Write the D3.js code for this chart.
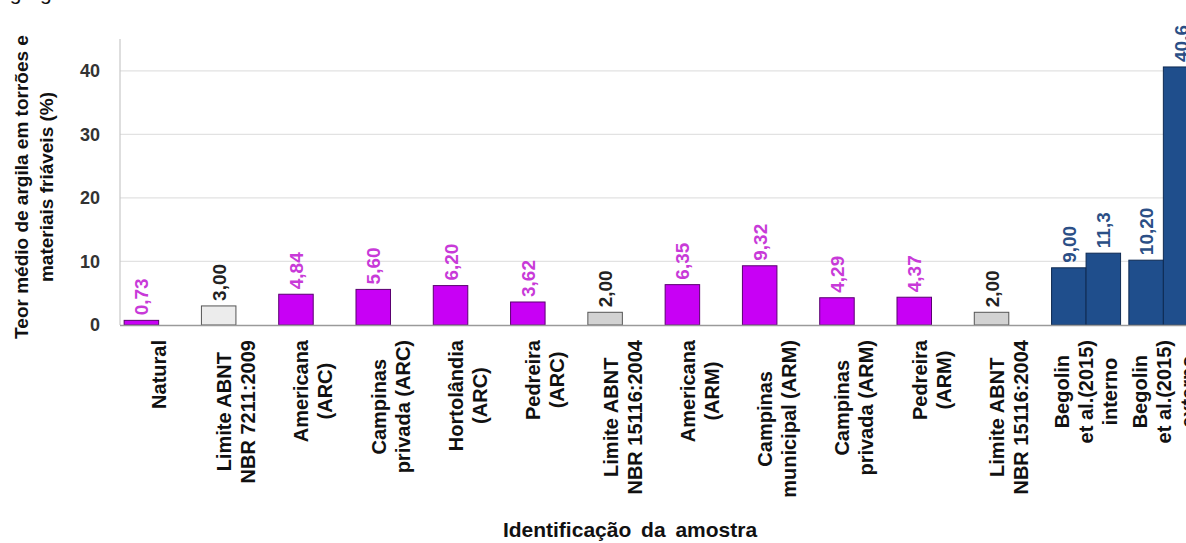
<!DOCTYPE html>
<html>
<head>
<meta charset="utf-8">
<script src="https://cdn.jsdelivr.net/npm/d3@7"></script>
<style>
  body { margin: 0; background: #fff; }
  svg { display: block; font-family: "Liberation Sans", Arial, sans-serif; }
</style>
</head>
<body>
<div id="chart"></div>
<script>
// categories (one line per label row)
var categories = [
  ['Natural'],
  ['Limite ABNT', 'NBR 7211:2009'],
  ['Americana', '(ARC)'],
  ['Campinas', 'privada (ARC)'],
  ['Hortolândia', '(ARC)'],
  ['Pedreira', '(ARC)'],
  ['Limite ABNT', 'NBR 15116:2004'],
  ['Americana', '(ARM)'],
  ['Campinas', 'municipal (ARM)'],
  ['Campinas', 'privada (ARM)'],
  ['Pedreira', '(ARM)'],
  ['Limite ABNT', 'NBR 15116:2004'],
  ['Begolin', 'et al.(2015)', 'interno'],
  ['Begolin', 'et al.(2015)', 'externo']
]
// first bar of each category
var values1 = [0.73, 3.00, 4.84, 5.60, 6.20, 3.62, 2.00, 6.35, 9.32, 4.29, 4.37, 2.00, 9.00, 10.20]
var labels1 = ['0,73', '3,00', '4,84', '5,60', '6,20', '3,62', '2,00', '6,35', '9,32', '4,29', '4,37', '2,00', '9,00', '10,20']
// second bar (only Begolin et al.)
var values2 = [null, null, null, null, null, null, null, null, null, null, null, null, 11.3, 40.6]
var labels2 = ['', '', '', '', '', '', '', '', '', '', '', '', '11,3', '40,6']
// kind of sample: r = recycled, l = limit, b = literature
var kinds = ['r', 'l', 'r', 'r', 'r', 'r', 'l', 'r', 'r', 'r', 'r', 'l', 'b', 'b']
var yTicks = [0, 10, 20, 30, 40]

var W = 1186, H = 543
var fills = { r: '#c800f5', b: '#1f4e8c' }
var strokes = { r: '#5a0070', l: '#555', b: '#0e2a52' }
var textCol = { r: '#c83ad8', l: '#222', b: '#2b4f86' }

var svg = d3.select('#chart')
  .append('svg')
    .attr('width', W)
    .attr('height', H)

// caption fragment cut off at the top
svg.append('text')
    .attr('x', -2)
    .attr('y', 0)
    .style('font-size', '21px')
    .style('fill', '#111')
    .text('agregados reciclados')

var idx = d3.range(categories.length)
var x0 = d3.scaleBand().domain(idx).range([120, 1202]).padding(0)
var x1 = d3.scaleBand().domain([0, 1]).range([0, x0.bandwidth()]).paddingInner(0).paddingOuter(0.12)
var y = d3.scaleLinear().domain([0, 45]).range([325, 39])

// grid
svg.append('g')
  .selectAll('line')
  .data(yTicks.filter(d => d > 0))
  .join('line')
    .attr('x1', 120)
    .attr('x2', W)
    .attr('y1', d => y(d))
    .attr('y2', d => y(d))
    .style('stroke', '#e2e2e2')
    .style('stroke-width', 1.2)

// y axis
var yAxis = svg.append('g')
    .attr('transform', 'translate(120,0)')
    .call(d3.axisLeft(y).tickValues(yTicks).tickSize(0).tickPadding(20))
yAxis.select('.domain').remove()
yAxis.selectAll('text')
    .style('font-size', '18px')
    .style('font-weight', 'bold')
    .style('font-family', '"Liberation Sans", Arial, sans-serif')
    .style('fill', '#333')
svg.append('line')
    .attr('x1', 120).attr('x2', 120)
    .attr('y1', y(0)).attr('y2', y(45))
    .style('stroke', '#c8c8c8')
    .style('stroke-width', 1.2)

// bars
var bars = []
idx.forEach(function(i) {
  bars.push({ i: i, s: 0, v: values1[i], t: labels1[i] })
  if (values2[i] != null) bars.push({ i: i, s: 1, v: values2[i], t: labels2[i] })
})

function barFill(d) {
  var k = kinds[d.i]
  if (k === 'l') return d.i === 1 ? '#ececec' : '#d2d2d2'
  return fills[k]
}

svg.append('g')
  .selectAll('rect')
  .data(bars)
  .join('rect')
    .attr('x', d => x0(d.i) + x1(d.s))
    .attr('width', x1.bandwidth())
    .attr('y', d => y(d.v))
    .attr('height', d => y(0) - y(d.v))
    .style('fill', barFill)
    .style('stroke', d => strokes[kinds[d.i]])
    .style('stroke-width', 1)

// bottom axis line
svg.append('line')
    .attr('x1', 120).attr('x2', W)
    .attr('y1', y(0) + 0.5).attr('y2', y(0) + 0.5)
    .style('stroke', '#9a9a9a')
    .style('stroke-width', 1.5)

// value labels
svg.append('g')
  .selectAll('text')
  .data(bars)
  .join('text')
    .attr('transform', d => 'translate(' + (x0(d.i) + x1(d.s) + x1.bandwidth() / 2 + 7) + ',' + (y(d.v) - 5) + ') rotate(-90)')
    .style('font-size', '19px')
    .style('font-weight', 'bold')
    .style('fill', d => textCol[kinds[d.i]])
    .text(d => d.t)

// category labels, rotated, each line centred inside its block
var fs = 20, lh = 24, labelTop = 340
var cat = svg.append('g')
  .selectAll('g')
  .data(idx)
  .join('g')
cat.each(function(i) {
  var g = d3.select(this)
  var lines = categories[i]
  var cx = x0(i) + x0.bandwidth() / 2
  var texts = g.selectAll('text')
    .data(lines)
    .join('text')
      .style('font-size', fs + 'px')
      .style('font-weight', 'bold')
      .style('fill', '#111')
      .attr('text-anchor', 'middle')
      .text(d => d)
  var maxLen = d3.max(texts.nodes(), n => n.getComputedTextLength())
  texts.attr('transform', function(d, j) {
    var bx = cx + (j - (lines.length - 1) / 2) * lh + fs * 0.36
    return 'translate(' + bx + ',' + (labelTop + maxLen / 2) + ') rotate(-90)'
  })
})

// axis titles
svg.append('text')
    .attr('x', 630)
    .attr('y', 537)
    .attr('text-anchor', 'middle')
    .style('font-size', '21px')
    .style('font-weight', 'bold')
    .style('word-spacing', '4px')
    .style('fill', '#111')
    .text('Identificação da amostra')

var yTitle = ['Teor médio de argila em torrões e', 'materiais friáveis (%)']
svg.append('g')
  .selectAll('text')
  .data(yTitle)
  .join('text')
    .attr('transform', (d, j) => 'translate(' + (28 + j * 25) + ',187) rotate(-90)')
    .attr('text-anchor', 'middle')
    .style('font-size', '19px')
    .style('font-weight', 'bold')
    .style('fill', '#111')
    .text(d => d)
</script>
</body>
</html>
